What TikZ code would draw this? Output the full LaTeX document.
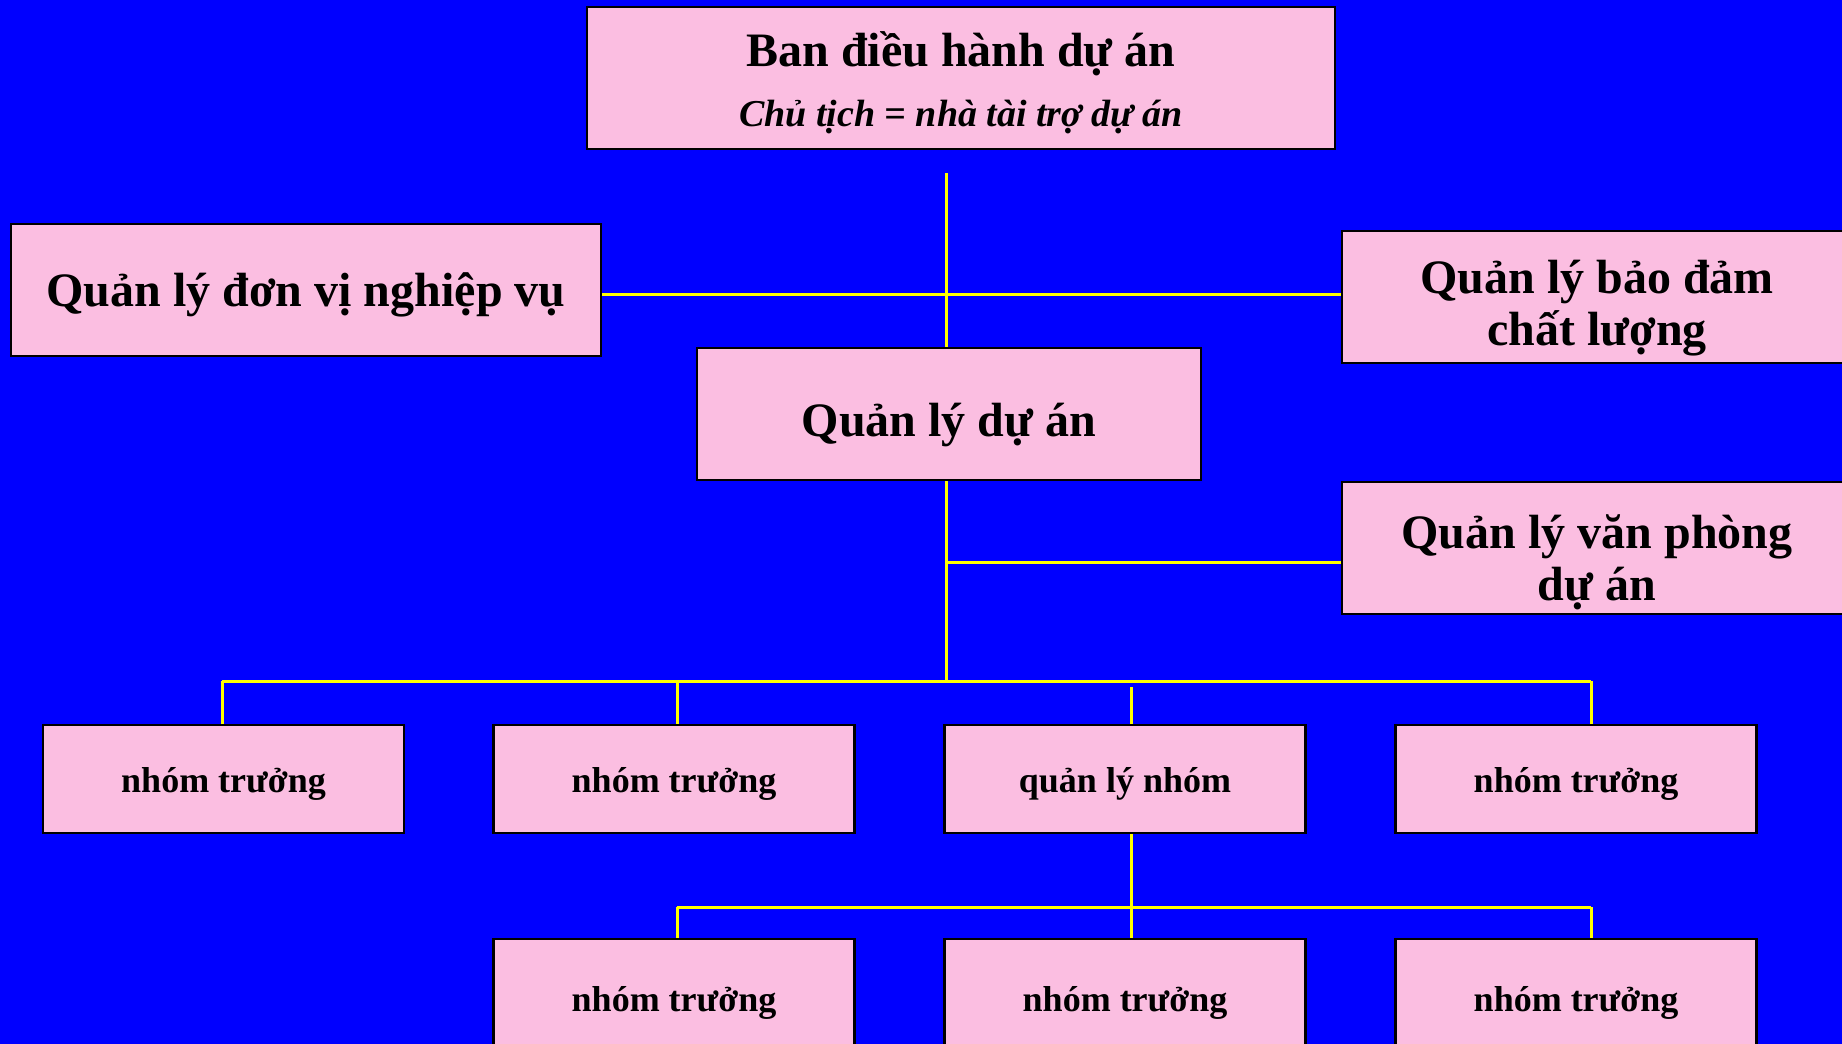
\documentclass[tikz,border=0pt]{standalone}
\usepackage{fontspec}
\setmainfont{Liberation Serif}
\definecolor{chartbg}{RGB}{0,0,255}
\definecolor{boxfill}{RGB}{251,190,225}
\definecolor{wire}{RGB}{255,255,0}
% invisible strut that pushes a label's first line down inside its box
\newcommand{\firstline}[1]{\rule{0pt}{#1}}
\tikzset{
  orgbox/.style={draw=black, line width=2.8pt, fill=boxfill, rectangle,
    align=center, inner sep=0pt, font=\bfseries},
  bigbox/.style={orgbox, minimum width=510pt, minimum height=132pt,
    font=\bfseries\fontsize{48}{52}\selectfont},
  teambox/.style={orgbox, minimum width=361pt, minimum height=108pt,
    font=\bfseries\fontsize{36}{40}\selectfont},
  link/.style={draw=wire, line width=3pt}
}
\begin{document}
\begin{tikzpicture}[x=1pt,y=-1pt]
\useasboundingbox (0,0) rectangle (1842,1044);
\clip (0,0) rectangle (1842,1044);
\fill[chartbg] (0,0) rectangle (1842,1044);

% ---- junction points of the wiring ----
\coordinate (topstub) at (946,173);
\coordinate (sideline) at (946,294);
\coordinate (officeline) at (946,562);
\coordinate (bus) at (946,681);
\coordinate (busL) at (222,681);
\coordinate (busR) at (1591,681);
\coordinate (dropA) at (222,681);
\coordinate (dropB) at (677,681);
\coordinate (dropC) at (1131,687);
\coordinate (dropD) at (1591,681);
\coordinate (subbusL) at (677,907);
\coordinate (subbusR) at (1591,907);

% ---- boxes ----
\node[orgbox, minimum width=748pt, minimum height=142pt] (board) at (961,78)
  {\fontsize{48}{52}\selectfont\firstline{44pt}Ban điều hành dự án\\[23pt]
   \fontsize{38}{44}\selectfont\itshape Chủ tịch = nhà tài trợ dự án};
\node[bigbox, minimum width=590pt] (business) at (306,290)
  {\firstline{44pt}Quản lý đơn vị nghiệp vụ};
\node[bigbox] (quality) at (1597,297) {\firstline{55pt}Quản lý bảo đảm\\chất lượng};
\node[bigbox, minimum width=504pt] (pm) at (949,414) {\firstline{55pt}Quản lý dự án};
\node[bigbox] (office) at (1597,548) {\firstline{62pt}Quản lý văn phòng\\dự án};

\node[teambox] (lead1) at (223.5,779) {\firstline{34pt}nhóm trưởng};
\node[teambox] (lead2) at (674,779) {\firstline{34pt}nhóm trưởng};
\node[teambox] (teammgr) at (1125,779) {\firstline{34pt}quản lý nhóm};
\node[teambox] (lead3) at (1576,779) {\firstline{34pt}nhóm trưởng};

\node[teambox, minimum height=110pt] (sub1) at (674,994) {\firstline{43pt}nhóm trưởng};
\node[teambox, minimum height=110pt] (sub2) at (1125,994) {\firstline{43pt}nhóm trưởng};
\node[teambox, minimum height=110pt] (sub3) at (1576,994) {\firstline{43pt}nhóm trưởng};

% ---- connectors ----
\draw[link] (topstub) -- (pm.north -| topstub);
\draw[link] (business.east |- sideline) -- (quality.west |- sideline);
\draw[link] (pm.south -| bus) -- (bus);
\draw[link] (officeline) -- (office.west |- officeline);
\draw[link] (busL) -- (busR);
\draw[link] (dropA) -- (lead1.north -| dropA);
\draw[link] (dropB) -- (lead2.north -| dropB);
\draw[link] (dropC) -- (teammgr.north -| dropC);
\draw[link] (dropD) -- (lead3.north -| dropD);
\draw[link] (teammgr.south -| dropC) -- (sub2.north -| dropC);
\draw[link] (subbusL) -- (subbusR);
\draw[link] (subbusL) -- (sub1.north -| subbusL);
\draw[link] (subbusR) -- (sub3.north -| subbusR);
\end{tikzpicture}
\end{document}
